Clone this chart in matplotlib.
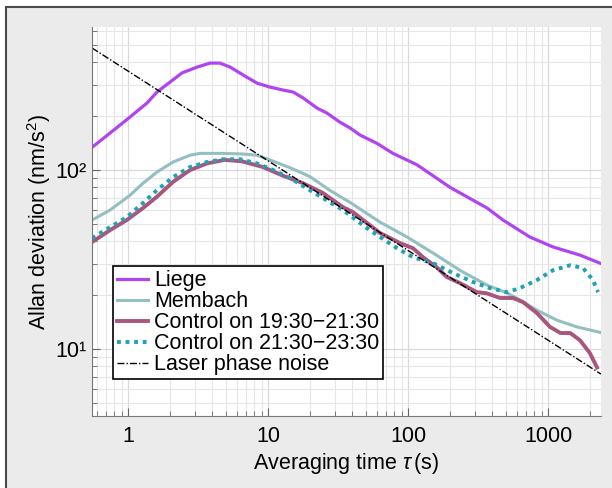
import matplotlib.pyplot as plt
from matplotlib.patches import Rectangle
from matplotlib.ticker import LogLocator, FixedLocator, FixedFormatter, NullFormatter

plt.rcParams['font.family'] = ['Liberation Sans', 'DejaVu Sans']
plt.rcParams['mathtext.fontset'] = 'custom'
plt.rcParams['mathtext.rm'] = 'Liberation Sans'
plt.rcParams['mathtext.it'] = 'Liberation Sans:italic'

#data
tau_liege = [0.553, 0.744, 1.034, 1.367, 1.611, 1.995, 2.43, 3.11, 3.85, 4.54, 5.37, 6.63, 8.35,
             10.3, 12.8, 15.1, 17.8, 22.4, 26.4, 32.7, 38.5, 45.4, 60, 78, 116, 200, 367,
             477, 741, 1086, 1693, 2352]
adev_liege = [134, 161, 198, 237, 273, 310, 349, 376, 396, 396, 376, 340, 306,
              291, 280, 273, 253, 222, 208, 185, 172, 157, 141, 124, 107, 80, 61.4,
              52.6, 42.3, 37.2, 33.5, 30.2]

tau_membach = [0.553, 0.744, 1.034, 1.28, 1.61, 2.10, 2.77, 3.27, 4.77, 6.63, 8.35, 10.3, 14.4,
               19.9, 27.7, 38.5, 63.1, 98.4, 151, 234, 365, 509, 629, 833, 1159, 1611, 2352]
adev_membach = [52.6, 59.8, 72.4, 84.5, 97.5, 111, 121, 124, 124, 123, 121, 114, 103,
                92, 77, 66, 51.2, 42.3, 34.4, 27.6, 22.8, 20.6, 18.8, 16.5, 14.5, 13.3, 12.4]

tau_ctrl1 = [0.553, 0.744, 0.98, 1.28, 1.61, 2.10, 2.77, 3.67, 4.9, 6.5, 9.2, 12.8, 17.8,
             24.7, 34.3, 40.5, 63.1, 87.7, 108.6, 128, 160, 189, 234, 310, 365, 454, 562,
             663, 833, 1033, 1227, 1440, 1693, 1990, 2239]
adev_ctrl1 = [39.6, 46.2, 52.6, 61.4, 71, 86, 100, 109, 114, 112, 104, 93, 84.5,
              74.4, 62.1, 58.2, 44.5, 39.1, 36.6, 32.6, 28.7, 25.3, 23.4, 20.8, 20.5, 19.3, 19.3,
              18.3, 15.9, 13.3, 12.3, 12.3, 11.2, 9.5, 7.9]

tau_ctrl2 = [0.553, 0.744, 0.98, 1.28, 1.61, 2.10, 2.77, 3.67, 4.77, 6.31, 8.35, 10.9, 14.4,
             22.4, 34.3, 50.9, 63.1, 83.6, 108.6, 151, 209, 292, 385, 509, 629, 833, 1086,
             1440, 1778, 2095, 2275]
adev_ctrl2 = [41.7, 48, 54.6, 65.5, 77.3, 91.4, 104, 111, 115, 115, 109, 100, 90.2,
              73, 59.8, 47.4, 42.3, 36.6, 32.6, 30.2, 26.6, 23.7, 21.9, 20.8, 21.9, 24.3, 27.6,
              29.4, 28.4, 24.3, 20.8]

tau_laser = [0.553, 2390]
adev_laser = [481, 7.25]

xticks = [1, 10, 100, 1000]
xtick_labels = ["1", "10", "100", "1000"]
yticks = [10, 100]
ytick_labels = ["10\u00b9", "10\u00b2"]

FS = 15.5

#plotting
fig = plt.figure(figsize=(6.12, 4.88), dpi=100, facecolor="white")
fig.add_artist(Rectangle((6 / 612, -0.1), 1.2, 1 - 7 / 488 + 0.1, transform=fig.transFigure,
                         facecolor="#ebebeb", edgecolor="#4a4a4a", linewidth=1.5, zorder=-10))

ax = fig.add_axes([92 / 612, 1 - 416 / 488, 509 / 612, 389 / 488])
ax.set_xscale("log")
ax.set_yscale("log")

ax.plot(tau_liege, adev_liege, color="#b044f0", lw=2.3, label="Liege")
ax.plot(tau_membach, adev_membach, color="#93bfc3", lw=2.2, label="Membach")
ax.plot(tau_ctrl1, adev_ctrl1, color="#a8567f", lw=2.8, label="Control on 19:30\u221221:30")
ax.plot(tau_ctrl2, adev_ctrl2, color="#1fa2b4", lw=2.8, linestyle=(0, (1, 1.2)),
        label="Control on 21:30\u221223:30")
ax.plot(tau_laser, adev_laser, color="black", lw=1.0, linestyle=(0, (5, 1.5, 1, 1.5)),
        label="Laser phase noise")

ax.set_xlim(0.553, 2390)
ax.set_ylim(4.23, 630)

ax.xaxis.set_major_locator(FixedLocator(xticks))
ax.xaxis.set_major_formatter(FixedFormatter(xtick_labels))
ax.xaxis.set_minor_locator(LogLocator(base=10, subs=range(2, 10), numticks=20))
ax.xaxis.set_minor_formatter(NullFormatter())
ax.yaxis.set_major_locator(FixedLocator(yticks))
ax.yaxis.set_major_formatter(FixedFormatter(ytick_labels))
ax.yaxis.set_minor_locator(LogLocator(base=10, subs=range(2, 10), numticks=20))
ax.yaxis.set_minor_formatter(NullFormatter())

ax.grid(which="major", color="#d9d9d9", lw=0.9)
ax.grid(which="minor", color="#e6e6e6", lw=0.8)
ax.set_axisbelow(True)
for s in ["top", "right"]:
    ax.spines[s].set_visible(False)
for s in ["left", "bottom"]:
    ax.spines[s].set_color("#777777")
ax.tick_params(which="both", direction="in", colors="#666666", labelcolor="black",
               labelsize=FS, top=False, right=False)
ax.tick_params(which="major", length=6, pad=7)
ax.tick_params(axis="y", which="major", pad=4)
ax.tick_params(which="minor", length=3.5)

ax.set_xlabel(r"Averaging time $\tau\,$(s)", fontsize=FS, labelpad=3)
ax.set_ylabel("Allan deviation (nm/s$^2$)", fontsize=FS)
ax.yaxis.set_label_coords(-0.077, 0.5)

leg = ax.legend(loc="upper left", bbox_to_anchor=(0.041, 0.386), borderaxespad=0,
                fontsize=FS, frameon=True, fancybox=False, framealpha=1,
                handlelength=1.45, handletextpad=0.25, labelspacing=0.0,
                borderpad=0.2)
leg.get_frame().set_edgecolor("black")
leg.get_frame().set_linewidth(1.2)

plt.savefig("out.png", dpi=100, facecolor=fig.get_facecolor())
